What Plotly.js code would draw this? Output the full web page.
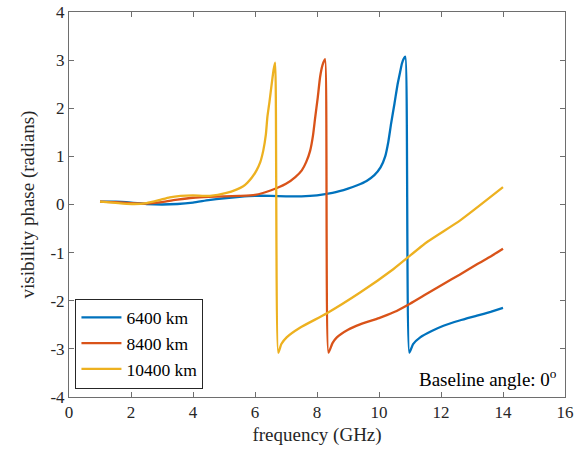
<!DOCTYPE html>
<html>
<head>
<meta charset="utf-8">
<script src="https://cdn.plot.ly/plotly-3.0.1.min.js"></script>
<style>html,body{margin:0;padding:0;background:#fff;}#chart{width:587px;height:460px;}</style>
</head>
<body>
<div id="chart"></div>
<script>
// Data
const seriesNames = ["6400 km", "8400 km", "10400 km"];
const seriesColors = ["#0072BD", "#D95319", "#EDB120"];

const freq6400 = [1.0, 1.5, 2.0, 2.5, 3.0, 3.5, 4.0, 4.5, 5.0, 5.5, 6.0, 6.5, 7.0, 7.5, 8.0, 8.5, 9.0, 9.3, 9.6, 9.85, 10.05, 10.2, 10.3, 10.39, 10.5, 10.6, 10.68, 10.74, 10.8, 10.85, 10.98, 11.1, 11.33, 11.7, 12.08, 12.6, 13.16, 13.6, 14.0];
const phase6400 = [0.06, 0.06, 0.04, 0.01, 0.0, 0.01, 0.04, 0.09, 0.13, 0.16, 0.18, 0.18, 0.17, 0.17, 0.19, 0.24, 0.33, 0.40, 0.49, 0.61, 0.77, 1.0, 1.3, 1.68, 2.1, 2.5, 2.75, 2.93, 3.03, 3.07, -3.08, -2.9, -2.76, -2.63, -2.52, -2.41, -2.31, -2.23, -2.15];

const freq8400 = [1.0, 1.5, 2.0, 2.5, 3.0, 3.5, 4.0, 4.5, 5.0, 5.5, 6.0, 6.5, 7.0, 7.3, 7.51, 7.65, 7.78, 7.87, 7.94, 8.02, 8.1, 8.18, 8.26, 8.37, 8.5, 8.64, 9.0, 9.39, 10.0, 10.47, 11.0, 11.5, 12.08, 12.6, 13.16, 13.6, 14.0];
const phase8400 = [0.06, 0.05, 0.03, 0.02, 0.05, 0.10, 0.14, 0.16, 0.17, 0.18, 0.20, 0.29, 0.43, 0.57, 0.71, 0.88, 1.12, 1.43, 1.8, 2.2, 2.65, 2.9, 3.02, -3.08, -2.88, -2.76, -2.6, -2.49, -2.36, -2.24, -2.06, -1.87, -1.65, -1.46, -1.24, -1.08, -0.92];

const freq10400 = [1.0, 1.4, 1.75, 2.1, 2.5, 2.9, 3.25, 3.6, 4.0, 4.55, 5.08, 5.4, 5.62, 5.75, 5.9, 6.05, 6.17, 6.27, 6.35, 6.4, 6.47, 6.54, 6.6, 6.65, 6.75, 6.85, 7.02, 7.45, 8.32, 9.39, 10.47, 11.55, 12.62, 14.0];
const phase10400 = [0.06, 0.04, 0.02, 0.01, 0.03, 0.09, 0.15, 0.18, 0.19, 0.18, 0.24, 0.31, 0.38, 0.45, 0.56, 0.71, 0.88, 1.13, 1.45, 1.82, 2.15, 2.51, 2.8, 2.95, -3.08, -2.9, -2.76, -2.56, -2.26, -1.83, -1.34, -0.78, -0.33, 0.36];

const xTicks = [0, 2, 4, 6, 8, 10, 12, 14, 16];
const yTicks = [-4, -3, -2, -1, 0, 1, 2, 3, 4];

const xs = [freq6400, freq8400, freq10400];
const ys = [phase6400, phase8400, phase10400];

const traces = xs.map((x, i) => ({
  x: x, y: ys[i], name: seriesNames[i], type: 'scatter', mode: 'lines',
  line: {color: seriesColors[i], width: 2.3, shape: 'spline', smoothing: 0.5}
}));

const font = 'Liberation Serif, Times New Roman, serif';
const axisCommon = {
  showgrid: false, zeroline: false, showline: true, mirror: 'ticks',
  linecolor: '#6e6e6e', linewidth: 1, ticks: 'inside', ticklen: 5,
  tickcolor: '#6e6e6e', tickfont: {family: font, size: 17, color: '#262626'}
};

const layout = {
  width: 587, height: 460,
  margin: {l: 69, r: 22, t: 12, b: 63},
  paper_bgcolor: '#ffffff', plot_bgcolor: '#ffffff',
  font: {family: font},
  showlegend: true,
  legend: {
    x: 0.013, y: 0.022, xanchor: 'left', yanchor: 'bottom',
    bgcolor: '#ffffff', bordercolor: '#262626', borderwidth: 1,
    font: {family: font, size: 17.5, color: '#000'},
    tracegroupgap: 0, itemwidth: 40
  },
  xaxis: Object.assign({}, axisCommon, {
    range: [0, 16], tickvals: xTicks, ticktext: xTicks.map(String),
    title: {text: 'frequency (GHz)', font: {family: font, size: 19, color: '#262626'}, standoff: 6}
  }),
  yaxis: Object.assign({}, axisCommon, {
    range: [-4, 4], tickvals: yTicks, ticktext: yTicks.map(String),
    title: {text: 'visibility phase (radians)', font: {family: font, size: 19, color: '#262626'}, standoff: 10}
  }),
  annotations: [{
    xref: 'paper', yref: 'paper', x: 1, y: 0.05, xanchor: 'right', yanchor: 'middle',
    xshift: -6, showarrow: false,
    text: 'Baseline angle: 0<sup>o</sup>',
    font: {family: font, size: 19, color: '#000'}
  }]
};

Plotly.newPlot('chart', traces, layout, {displayModeBar: false, staticPlot: true});
</script>
</body>
</html>
